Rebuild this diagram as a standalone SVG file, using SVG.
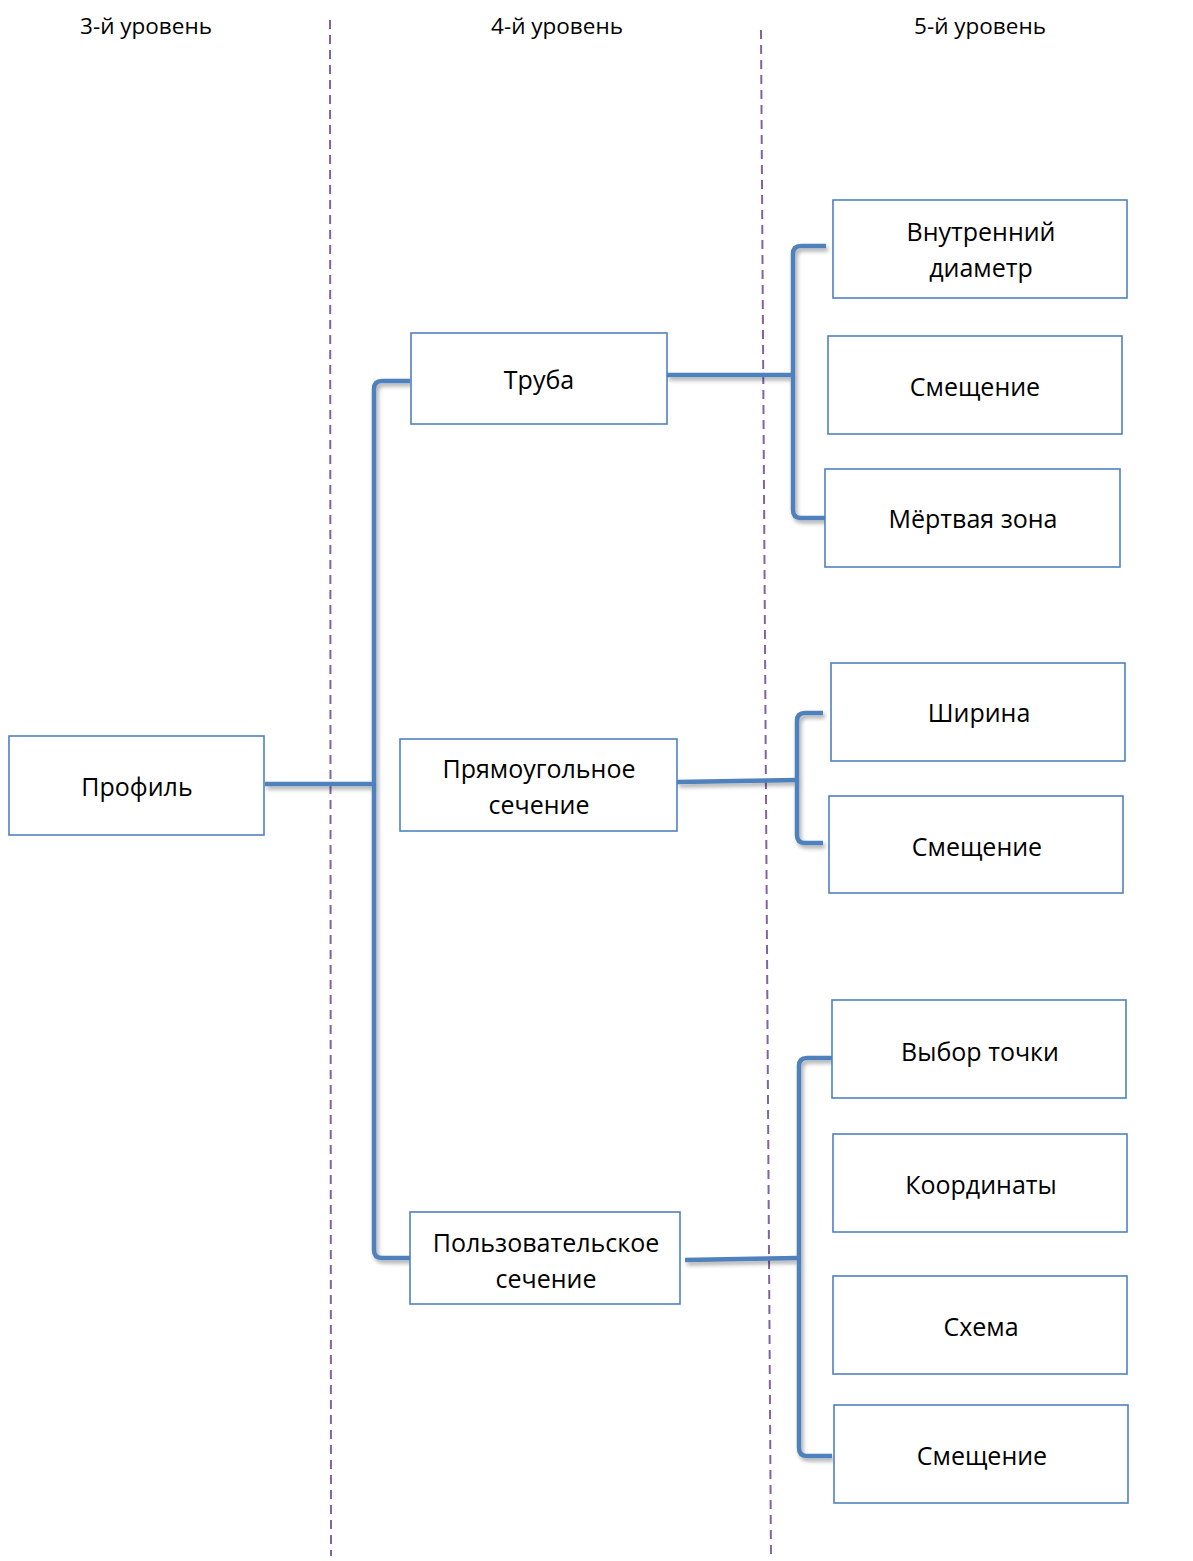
<svg xmlns="http://www.w3.org/2000/svg" width="1193" height="1561" viewBox="0 0 1193 1561">
<style>
.box{fill:#fff;stroke:#4F81BD;stroke-width:1.6}
.t{font-family:"Open Sans","Liberation Sans",sans-serif;font-size:25px;fill:#000;text-anchor:middle;dominant-baseline:central}
.h{font-family:"Open Sans","Liberation Sans",sans-serif;font-size:22.5px;fill:#000;text-anchor:middle;dominant-baseline:central}
.c{fill:none;stroke:#4F81BD;stroke-width:4.5;stroke-linejoin:round}
.d{stroke:#8064A2;stroke-width:2;stroke-dasharray:9 6;fill:none}
</style>
<defs>
<filter id="sh" x="-20%" y="-20%" width="140%" height="140%">
<feGaussianBlur in="SourceAlpha" stdDeviation="2"/>
<feOffset dx="2" dy="3"/>
<feComponentTransfer><feFuncA type="linear" slope="0.35"/></feComponentTransfer>
<feMerge><feMergeNode/><feMergeNode in="SourceGraphic"/></feMerge>
</filter>
</defs>
<rect width="1193" height="1561" fill="#fff"/>
<g id="headers">
<text class="h" x="146" y="25">3-й уровень</text>
<text class="h" x="557" y="25">4-й уровень</text>
<text class="h" x="980" y="25">5-й уровень</text>
</g>
<g id="dividers">
<line class="d" x1="330" y1="20" x2="331" y2="1556"/>
<line class="d" x1="761" y1="30" x2="771" y2="1560"/>
</g>
<g id="connectors" filter="url(#sh)">
<path class="c" d="M265,784 H374"/>
<path class="c" d="M410,381 H382 Q374,381 374,389 V1250 Q374,1258 382,1258 H410"/>
<path class="c" d="M667,375 H793"/>
<path class="c" d="M826,246 H801 Q793,246 793,254 V510 Q793,518 801,518 H826"/>
<path class="c" d="M677,782 L797,780"/>
<path class="c" d="M823,713 H805 Q797,713 797,721 V835 Q797,843 805,843 H823"/>
<path class="c" d="M685,1260 L799,1258"/>
<path class="c" d="M832,1058 H807 Q799,1058 799,1066 V1448 Q799,1456 807,1456 H832"/>
</g>
<g id="n-profile"><rect class="box" x="9" y="736" width="255" height="99"/><text class="t" x="137" y="786">Профиль</text></g>
<g id="n-truba"><rect class="box" x="411" y="333" width="256" height="91"/><text class="t" x="539" y="379">Труба</text></g>
<g id="n-rect"><rect class="box" x="400" y="739" width="277" height="92"/><text class="t" x="539" y="768">Прямоугольное</text><text class="t" x="539" y="804">сечение</text></g>
<g id="n-user"><rect class="box" x="410" y="1212" width="270" height="92"/><text class="t" x="546" y="1242">Пользовательское</text><text class="t" x="546" y="1278">сечение</text></g>
<g id="n-diam"><rect class="box" x="833" y="200" width="294" height="98"/><text class="t" x="981" y="231">Внутренний</text><text class="t" x="981" y="267">диаметр</text></g>
<g id="n-sm1"><rect class="box" x="828" y="336" width="294" height="98"/><text class="t" x="975" y="386">Смещение</text></g>
<g id="n-dead"><rect class="box" x="825" y="469" width="295" height="98"/><text class="t" x="973" y="518">Мёртвая зона</text></g>
<g id="n-width"><rect class="box" x="831" y="663" width="294" height="98"/><text class="t" x="979" y="712">Ширина</text></g>
<g id="n-sm2"><rect class="box" x="829" y="796" width="294" height="97"/><text class="t" x="977" y="846">Смещение</text></g>
<g id="n-point"><rect class="box" x="832" y="1000" width="294" height="98"/><text class="t" x="980" y="1051">Выбор точки</text></g>
<g id="n-coord"><rect class="box" x="833" y="1134" width="294" height="98"/><text class="t" x="981" y="1184">Координаты</text></g>
<g id="n-scheme"><rect class="box" x="833" y="1276" width="294" height="98"/><text class="t" x="981" y="1326">Схема</text></g>
<g id="n-sm3"><rect class="box" x="834" y="1405" width="294" height="98"/><text class="t" x="982" y="1455">Смещение</text></g>
</svg>
